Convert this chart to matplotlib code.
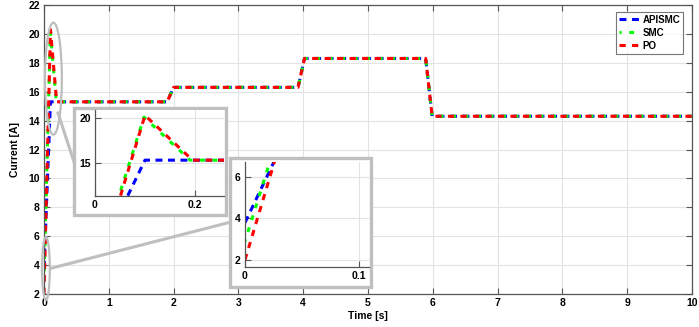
import numpy as np
import matplotlib
matplotlib.use('Agg')
import matplotlib.pyplot as plt
from matplotlib.patches import Ellipse, Rectangle
from matplotlib.lines import Line2D

plt.rcParams['font.family'] = ['Liberation Sans', 'DejaVu Sans']
plt.rcParams['font.weight'] = 'bold'
plt.rcParams['lines.scale_dashes'] = False

# time [s] and current [A]
t_apismc = [0, 0.1, 1.9, 2.0, 3.92, 4.02, 5.89, 5.99, 10]
i_apismc = [3.8, 15.3, 15.3, 16.3, 16.3, 18.3, 18.3, 14.3, 14.3]
t_smc = [0, 0.098, 0.19, 1.9, 2.0, 3.92, 4.02, 5.89, 5.99, 10]
i_smc = [2.9, 20.1, 15.3, 15.3, 16.3, 16.3, 18.3, 18.3, 14.3, 14.3]
t_po = [0, 0.1, 0.195, 1.9, 2.0, 3.92, 4.02, 5.89, 5.99, 10]
i_po = [2.0, 20.3, 15.3, 15.3, 16.3, 16.3, 18.3, 18.3, 14.3, 14.3]

labels = ['APISMC', 'SMC', 'PO']
colors = ['#0000ff', '#00ff00', '#ff0000']
dash_styles = [(0, (5, 4)), (2, (3.5, 5.5)), (0, (4.5, 4.5))]

x_ticks = list(range(0, 11))
y_ticks = list(range(2, 23, 2))

W, H = 699, 327
fig = plt.figure(figsize=(W / 100, H / 100), dpi=100)


def px_rect(x0, y0, x1, y1):
    # pixel box (top-left origin) -> figure fraction [l, b, w, h]
    return [x0 / W, 1 - y1 / H, (x1 - x0) / W, (y1 - y0) / H]


def style_axes(ax, fs=7.5):
    for s in ax.spines.values():
        s.set_color('#555555')
        s.set_linewidth(0.9)
    ax.tick_params(direction='in', length=4, width=0.8, color='#555555',
                   labelsize=fs, pad=3)
    for lab in ax.get_xticklabels() + ax.get_yticklabels():
        lab.set_fontweight('bold')
    ax.grid(True, color='#e3e3e3', linewidth=0.8)
    ax.set_axisbelow(True)


def draw_series(ax, lw=2.2):
    series = [(t_apismc, i_apismc), (t_smc, i_smc), (t_po, i_po)]
    for (t, i), lab, c, ls in zip(series, labels, colors, dash_styles):
        ax.plot(t, i, color=c, linestyle=ls, linewidth=lw, label=lab)


ax = fig.add_axes(px_rect(44, 5, 692, 294))
draw_series(ax)
ax.set_xlim(0, 10)
ax.set_ylim(2, 22)
ax.set_xticks(x_ticks)
ax.set_yticks(y_ticks)
ax.tick_params(top=True, right=True, labeltop=False, labelright=False)
style_axes(ax)
ax.set_xlabel('Time [s]', fontsize=7.5, fontweight='bold', labelpad=2)
ax.set_ylabel('Current [A]', fontsize=7.5, fontweight='bold', labelpad=6)

leg = ax.legend(loc='upper right', bbox_to_anchor=(0.986, 0.976), fontsize=7,
                frameon=True, fancybox=False, borderpad=0.3, labelspacing=0.3,
                handlelength=2.2, handletextpad=0.15, borderaxespad=0)
leg.get_frame().set_edgecolor('#555555')
leg.get_frame().set_linewidth(0.8)
for txt in leg.get_texts():
    txt.set_fontweight('bold')

# zoom marker ellipses
ax.add_patch(Ellipse((0.145, 16.9), 0.26, 7.75, fill=False, edgecolor='#bdbdbd',
                     linewidth=1.6, clip_on=False, zorder=5))
ax.add_patch(Ellipse((0.03, 3.76), 0.12, 4.36, fill=False, edgecolor='#bdbdbd',
                     linewidth=1.6, clip_on=False, zorder=5))

gray = '#bfbfbf'
# connector lines (pixel positions)
for (xa, ya), (xb, yb) in [((58, 113), (75, 165)), ((52, 268), (231, 222))]:
    fig.add_artist(Line2D([xa / W, xb / W], [1 - ya / H, 1 - yb / H],
                          transform=fig.transFigure, color=gray, linewidth=2.2,
                          zorder=1.2))

# inset 1
fig.add_artist(Rectangle(px_rect(74, 108, 226, 215)[:2], 152 / W, 107 / H,
                         transform=fig.transFigure, facecolor='white',
                         edgecolor=gray, linewidth=2.4, zorder=1.5))
ax1 = fig.add_axes(px_rect(95, 110, 224, 196), zorder=2)
draw_series(ax1)
ax1.set_xlim(0, 0.258)
ax1.set_ylim(11.3, 20.9)
ax1.set_xticks([0, 0.2])
ax1.set_xticklabels(['0', '0.2'])
ax1.set_yticks([15, 20])
ax1.spines['top'].set_visible(False)
ax1.spines['right'].set_visible(False)
style_axes(ax1)

# inset 2
fig.add_artist(Rectangle(px_rect(230, 158, 371, 287)[:2], 141 / W, 129 / H,
                         transform=fig.transFigure, facecolor='white',
                         edgecolor=gray, linewidth=2.4, zorder=2.5))
ax2 = fig.add_axes(px_rect(245, 162, 369, 267), zorder=3)
draw_series(ax2)
ax2.set_xlim(0, 0.109)
ax2.set_ylim(1.66, 6.72)
ax2.set_xticks([0, 0.1])
ax2.set_xticklabels(['0', '0.1'])
ax2.set_yticks([2, 4, 6])
ax2.spines['top'].set_visible(False)
ax2.spines['right'].set_visible(False)
style_axes(ax2)

fig.savefig('out.png', dpi=100)
